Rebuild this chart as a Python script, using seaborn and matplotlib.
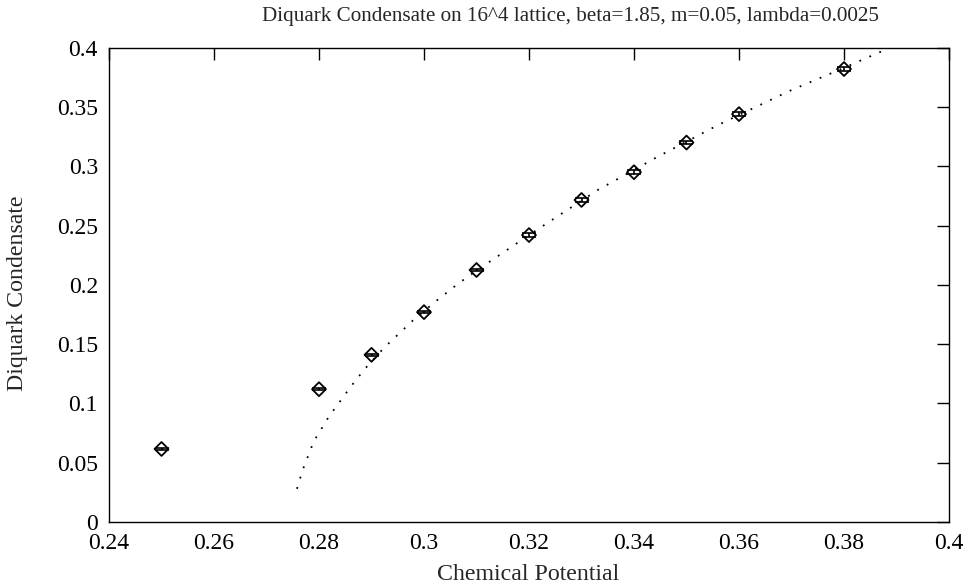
import matplotlib
matplotlib.use("Agg")
import matplotlib.pyplot as plt
import seaborn as sns
import pandas as pd

mu = [0.25, 0.28, 0.29, 0.30, 0.31, 0.32, 0.33, 0.34, 0.35, 0.36, 0.38]
cond = [0.0616, 0.112, 0.141, 0.177, 0.2125, 0.242, 0.2716, 0.295, 0.320, 0.344, 0.382]
cond_err = [0.001, 0.001, 0.001, 0.001, 0.001, 0.0015, 0.0015, 0.0015, 0.0015, 0.0015, 0.0015]

fit_x = [0.2758, 0.2769, 0.2790, 0.2819, 0.2862, 0.2887, 0.2924, 0.2979, 0.3022,
         0.3065, 0.3100, 0.3200, 0.3331, 0.3445, 0.3561, 0.3696, 0.3800, 0.3890]
fit_y = [0.028, 0.044, 0.068, 0.089, 0.115, 0.129, 0.147, 0.170, 0.186,
         0.201, 0.212, 0.242, 0.280, 0.308, 0.335, 0.3635, 0.383, 0.4005]

xticks = [0.24, 0.26, 0.28, 0.30, 0.32, 0.34, 0.36, 0.38, 0.40]
xticklabels = ["0.24", "0.26", "0.28", "0.3", "0.32", "0.34", "0.36", "0.38", "0.4"]
yticks = [0, 0.05, 0.1, 0.15, 0.2, 0.25, 0.3, 0.35, 0.4]
yticklabels = ["0", "0.05", "0.1", "0.15", "0.2", "0.25", "0.3", "0.35", "0.4"]

title = "Diquark Condensate on 16^4 lattice, beta=1.85, m=0.05, lambda=0.0025"

sns.set_style("white")
plt.rcParams["font.family"] = ["Liberation Serif", "DejaVu Serif"]

fig = plt.figure(figsize=(9.67, 5.88), dpi=100)
ax = fig.add_axes([109 / 967, 1 - 522 / 588, 840 / 967, (522 - 47.7) / 588])

df_pts = pd.DataFrame({"mu": mu, "cond": cond})
df_fit = pd.DataFrame({"mu": fit_x, "cond": fit_y})

sns.lineplot(data=df_fit, x="mu", y="cond", ax=ax, color="black", sort=False,
             estimator=None, linewidth=1.3, linestyle=(0, (1, 5)))
ax.errorbar(mu, cond, yerr=cond_err, fmt="none", ecolor="black", elinewidth=1.2,
            capsize=4.8, capthick=1.2)
sns.scatterplot(data=df_pts, x="mu", y="cond", ax=ax, marker="D", s=50,
                facecolor="none", edgecolor="black", linewidth=1.3, zorder=3)

ax.set_xlim(0.24, 0.40)
ax.set_ylim(0, 0.40)
ax.set_xticks(xticks)
ax.set_xticklabels(xticklabels)
ax.set_yticks(yticks)
ax.set_yticklabels(yticklabels)
ax.tick_params(direction="in", length=8.6, width=1.0, top=True, right=True,
               labelsize=17, pad=8, colors="black")
for s in ax.spines.values():
    s.set_color("black")
    s.set_linewidth(1.0)
ax.set_xlabel("")
ax.set_ylabel("")

fig.text(528.5 / 967, 1 - 575 / 588, "Chemical Potential", ha="center", va="center", fontsize=17.2)
fig.text(18 / 967, 1 - 293 / 588, "Diquark Condensate", ha="center", va="center",
         rotation=90, fontsize=17.2)
fig.text(571 / 967, 1 - 17 / 588, title, ha="center", va="center", fontsize=15.2)

fig.savefig("out.png", dpi=100)
